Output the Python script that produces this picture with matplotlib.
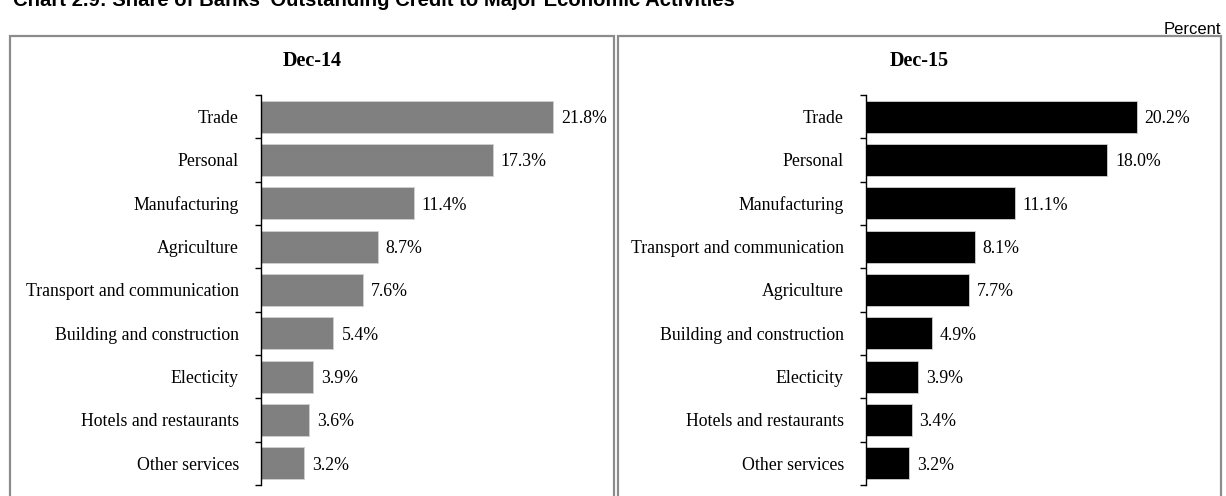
import matplotlib.pyplot as plt
from matplotlib.patches import Rectangle
import numpy as np

# data
cats_14 = ['Trade', 'Personal', 'Manufacturing', 'Agriculture',
           'Transport and communication', 'Building and construction',
           'Electicity', 'Hotels and restaurants', 'Other services']
vals_14 = [21.8, 17.3, 11.4, 8.7, 7.6, 5.4, 3.9, 3.6, 3.2]

cats_15 = ['Trade', 'Personal', 'Manufacturing', 'Transport and communication',
           'Agriculture', 'Building and construction', 'Electicity',
           'Hotels and restaurants', 'Other services']
vals_15 = [20.2, 18.0, 11.1, 8.1, 7.7, 4.9, 3.9, 3.4, 3.2]

W, H = 1226, 496
fig = plt.figure(figsize=(W / 100, H / 100), dpi=100)

serif = ['Liberation Serif', 'DejaVu Serif']
sans = ['Liberation Sans', 'DejaVu Sans']

# title (cut off at the top in the original)
fig.text(13 / W, 1 - 6 / H,
         "Chart 2.9: Share of Banks' Outstanding Credit to Major Economic Activities",
         family=sans, fontweight='bold', fontsize=14.6, va='baseline', ha='left')
fig.text(1221 / W, 1 - 37 / H, 'Percent', family=sans, fontsize=12,
         ha='right', va='bottom')

# panel boxes
for x0, x1 in [(10, 614), (618, 1221)]:
    fig.patches.append(Rectangle((x0 / W, -0.1), (x1 - x0) / W, 1 - 36 / H + 0.1,
                                 transform=fig.transFigure, fill=False,
                                 edgecolor='#8c8c8c', linewidth=1.6))


def panel(left_px, cats, vals, color, title, centre_px):
    top, bottom = 95, 485
    width_px = 330
    ax = fig.add_axes([left_px / W, 1 - bottom / H, width_px / W, (bottom - top) / H])
    y = np.arange(len(cats))
    ax.barh(y, vals, height=0.74, color=color, edgecolor='#d0d0d0', linewidth=0.6)
    ax.set_ylim(len(cats) - 0.5, -0.5)
    ax.set_xlim(0, width_px / 13.4)
    ax.set_yticks(y)
    ax.set_yticklabels(cats, family=serif, fontsize=12.8)
    ax.tick_params(axis='y', which='major', length=0, pad=16)
    ax.set_yticks(np.arange(-0.5, len(cats)), minor=True)
    ax.tick_params(axis='y', which='minor', length=4, width=1, direction='out')
    ax.set_xticks([])
    for s in ['top', 'right', 'bottom']:
        ax.spines[s].set_visible(False)
    ax.spines['left'].set_linewidth(1)
    for yi, v in zip(y, vals):
        ax.text(v + 0.6, yi, f'{v:.1f}%', va='center_baseline', ha='left',
                family=serif, fontsize=12.8)
    fig.text(centre_px / W, 1 - 61 / H, title, family=serif, fontweight='bold',
             fontsize=14.5, ha='center', va='center')
    return ax


panel(261, cats_14, vals_14, '#808080', 'Dec-14', 312)
panel(866, cats_15, vals_15, 'black', 'Dec-15', 919)

fig.savefig('out.png', dpi=100)
